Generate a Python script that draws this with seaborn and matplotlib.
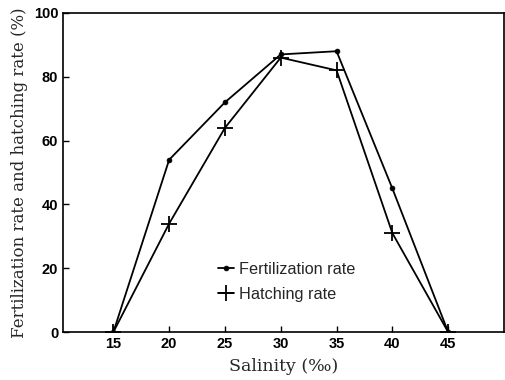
import matplotlib
matplotlib.use("Agg")
import matplotlib.pyplot as plt
import seaborn as sns
import pandas as pd

salinity = [15, 20, 25, 30, 35, 40, 45]
fertilization = [0, 54, 72, 87, 88, 45, 0]
hatching = [0, 34, 64, 86, 82, 31, 0]
xticks = [15, 20, 25, 30, 35, 40, 45]
yticks = [0, 20, 40, 60, 80, 100]

sns.set_style("ticks")
plt.rcParams['font.family'] = ['Liberation Sans', 'DejaVu Sans']

fig = plt.figure(figsize=(5.05, 3.8), dpi=100)
ax = fig.add_axes([0.125, 0.126, 0.873, 0.84])

df_f = pd.DataFrame({"x": salinity, "y": fertilization})
df_h = pd.DataFrame({"x": salinity, "y": hatching})

sns.lineplot(data=df_f, x="x", y="y", ax=ax, color="black", linewidth=1.3,
             marker="o", markersize=3.5, markeredgewidth=0.5,
             markeredgecolor="black", markerfacecolor="black",
             label="Fertilization rate")
sns.lineplot(data=df_h, x="x", y="y", ax=ax, color="black", linewidth=1.3,
             marker="+", markersize=11, markeredgewidth=1.3,
             markeredgecolor="black", label="Hatching rate")

ax.set_xlim(10.5, 50)
ax.set_ylim(0, 100)
ax.set_xticks(xticks)
ax.set_yticks(yticks)
ax.tick_params(direction="in", length=4, width=1, labelsize=10.5, colors="black")
for lab in ax.get_xticklabels() + ax.get_yticklabels():
    lab.set_fontweight("bold")
for s in ax.spines.values():
    s.set_linewidth(1.2)
    s.set_color("black")

ax.set_xlabel("Salinity (‰)", family=["DejaVu Serif"],
              fontsize=12.5, fontweight="normal", labelpad=5)
ax.set_ylabel("Fertilization rate and hatching rate (%)", family=["DejaVu Serif"],
              fontsize=12, fontweight="normal", labelpad=4)

leg = ax.legend(loc="upper left", bbox_to_anchor=(0.318, 0.265), frameon=False,
                handlelength=1.0, handletextpad=0.3, labelspacing=0.6,
                prop={"size": 11.7})

fig.savefig("out.png", dpi=100)
